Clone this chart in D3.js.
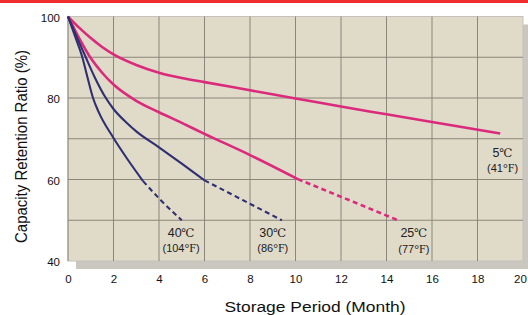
<!DOCTYPE html>
<html>
<head>
<meta charset="utf-8">
<script src="https://cdn.jsdelivr.net/npm/d3@7"></script>
<style>
  body { margin: 0; background: #fff; }
  svg { display: block; font-family: 'Liberation Sans', Arial, sans-serif; }
</style>
</head>
<body>
<div class="container"></div>
<script>
// x ticks (months) and y ticks (%)
const xTicks = [0, 2, 4, 6, 8, 10, 12, 14, 16, 18, 20];
const yTicks = [40, 60, 80, 100];

// 5°C - solid all the way
const months5 = [0, 0.5, 1, 1.5, 2, 3, 4, 5, 6, 8, 10, 12, 14, 16, 19];
const values5 = [100, 97.2, 94.7, 92.5, 90.7, 88.1, 86.2, 84.9, 83.9, 81.9, 79.9, 77.9, 76.0, 74.1, 71.3];

// 25°C - solid part then dashed part
const months25 = [0, 0.5, 1, 1.5, 2, 3, 4, 5, 6, 8, 10.1];
const values25 = [100, 94.6, 89.8, 86.2, 83.3, 79.3, 76.5, 73.9, 71.2, 66.0, 60.1];
const months25d = [10.1, 12.2, 14.5];
const values25d = [60.1, 55.3, 50.0];

// 30°C
const months30 = [0, 0.4, 0.78, 1.2, 1.63, 2, 2.6, 3, 4, 5, 6];
const values30 = [100, 94.8, 90, 84.8, 80.3, 77.3, 73.8, 71.8, 67.9, 63.9, 59.8];
const months30d = [6, 7.7, 9.4];
const values30d = [59.8, 54.9, 50.0];

// 40°C
const months40 = [0, 0.3, 0.63, 0.85, 1.1, 1.36, 2, 2.6, 3.3];
const values40 = [100, 95.3, 90, 85.2, 80, 76.4, 70.2, 65.1, 59.6];
const months40d = [3.3, 4.1, 5.0];
const values40d = [59.6, 54.8, 50.0];

// curve labels
const labelC = ['40℃', '30℃', '25℃', '5℃'];
const labelF = ['(104', '(86', '(77', '(41'];
const labelMonth = [4.97, 9.0, 15.2, 19.1];
const labelValue = [46.0, 46.0, 45.8, 65.6];

const W = 528, H = 315;
const plotLeft = 68, plotRight = 523, plotTop = 16.5, plotBottom = 261;

const pink = '#db2a7c';
const navy = '#2f2f72';

const svg = d3.select('.container')
              .append('svg')
              .attr('width', W)
              .attr('height', H);

// red strip along the top edge
svg.append('rect')
   .attr('x', 0).attr('y', 0)
   .attr('width', W).attr('height', 3)
   .attr('fill', '#ef2d2d');

const xScale = d3.scaleLinear().domain([0, 20]).range([plotLeft, plotRight]);
const yScale = d3.scaleLinear().domain([40, 100]).range([plotBottom, plotTop]);

//Shadow + plot background
svg.append('rect')
   .attr('x', plotLeft + 8).attr('y', plotTop + 8)
   .attr('width', plotRight - plotLeft).attr('height', plotBottom - plotTop)
   .attr('fill', '#c9c7c0');
svg.append('rect')
   .attr('x', plotLeft).attr('y', plotTop)
   .attr('width', plotRight - plotLeft).attr('height', plotBottom - plotTop)
   .attr('fill', '#e0dac9')
   .attr('stroke', '#c4c2ba')
   .attr('stroke-width', 1);

//Grid
const grid = svg.append('g').attr('stroke', '#8a877a').attr('stroke-width', 1);
grid.selectAll('.vx')
    .data(d3.range(0, 20, 2))
    .enter()
    .append('line')
    .attr('x1', d => xScale(d)).attr('x2', d => xScale(d))
    .attr('y1', plotTop).attr('y2', plotBottom);
grid.selectAll('.hy')
    .data(d3.range(50, 100, 10))
    .enter()
    .append('line')
    .attr('x1', plotLeft).attr('x2', plotRight)
    .attr('y1', d => yScale(d)).attr('y2', d => yScale(d));

//Axes (labels only)
const xAxis = d3.axisBottom(xScale).tickValues(xTicks).tickSize(0).tickPadding(0);
const gx = svg.append('g')
              .attr('transform', `translate(0,${plotBottom})`)
              .call(xAxis);
gx.select('.domain').remove();
gx.selectAll('text')
  .attr('y', 22)
  .attr('dy', 0)
  .attr('dx', d => d === 20 ? -3 : 0)
  .style('font-size', '11.5px')
  .style('font-family', 'Liberation Sans, Arial, sans-serif')
  .attr('fill', '#111');

const yAxis = d3.axisLeft(yScale).tickValues(yTicks).tickSize(0).tickPadding(0);
const gy = svg.append('g')
              .attr('transform', `translate(${plotLeft - 8},0)`)
              .call(yAxis);
gy.select('.domain').remove();
gy.selectAll('text')
  .attr('x', 0)
  .attr('dy', '0.4em')
  .style('font-size', '11.5px')
  .style('font-family', 'Liberation Sans, Arial, sans-serif')
  .attr('fill', '#111');

//Axis titles
svg.append('text')
   .attr('x', 315).attr('y', 312)
   .attr('text-anchor', 'middle')
   .attr('textLength', 181)
   .attr('lengthAdjust', 'spacingAndGlyphs')
   .style('font-size', '15.5px')
   .attr('fill', '#111')
   .text('Storage Period (Month)');

svg.append('text')
   .attr('transform', 'translate(27,146.5) rotate(-90)')
   .attr('text-anchor', 'middle')
   .attr('textLength', 193)
   .attr('lengthAdjust', 'spacingAndGlyphs')
   .style('font-size', '16.5px')
   .attr('fill', '#111')
   .text('Capacity Retention Ratio (%)');

//Curves
const line = d3.line()
               .x(d => xScale(d[0]))
               .y(d => yScale(d[1]))
               .curve(d3.curveMonotoneX);

const series = [
  { m: months5, v: values5, color: pink, w: 2.6, dash: null },
  { m: months25, v: values25, color: pink, w: 2.6, dash: null },
  { m: months25d, v: values25d, color: pink, w: 2.6, dash: '5,3.5' },
  { m: months30, v: values30, color: navy, w: 2.1, dash: null },
  { m: months30d, v: values30d, color: navy, w: 2.1, dash: '5,3.5' },
  { m: months40, v: values40, color: navy, w: 2.1, dash: null },
  { m: months40d, v: values40d, color: navy, w: 2.1, dash: '5,3.5' }
];

svg.append('g')
   .selectAll('path')
   .data(series)
   .enter()
   .append('path')
   .attr('d', s => line(s.m.map((m, i) => [m, s.v[i]])))
   .attr('fill', 'none')
   .attr('stroke', s => s.color)
   .attr('stroke-width', s => s.w)
   .attr('stroke-dasharray', s => s.dash)
   .attr('stroke-linecap', 'butt');

//Curve labels
const labels = svg.append('g')
                  .selectAll('g')
                  .data(labelC.map((c, i) => ({ c, f: labelF[i], m: labelMonth[i], v: labelValue[i] })))
                  .enter()
                  .append('g')
                  .attr('transform', d => `translate(${xScale(d.m)},${yScale(d.v)})`);

const tC = labels.append('text')
                 .attr('text-anchor', 'middle')
                 .attr('fill', '#222')
                 .style('font-size', '12.5px');
tC.append('tspan').text(d => d.c.slice(0, -1));
tC.append('tspan')
  .style('font-family', "'DejaVu Serif', 'Noto Sans CJK SC', serif")
  .style('font-size', '11.5px')
  .text(d => d.c.slice(-1));

const tF = labels.append('text')
                 .attr('y', 15.5)
                 .attr('text-anchor', 'middle')
                 .attr('fill', '#222')
                 .style('font-size', '11px');
tF.append('tspan').text(d => d.f);
tF.append('tspan')
  .style('font-family', "'Liberation Serif', serif")
  .style('font-size', '12px')
  .text('°F');
tF.append('tspan').text(')');
</script>
</body>
</html>
